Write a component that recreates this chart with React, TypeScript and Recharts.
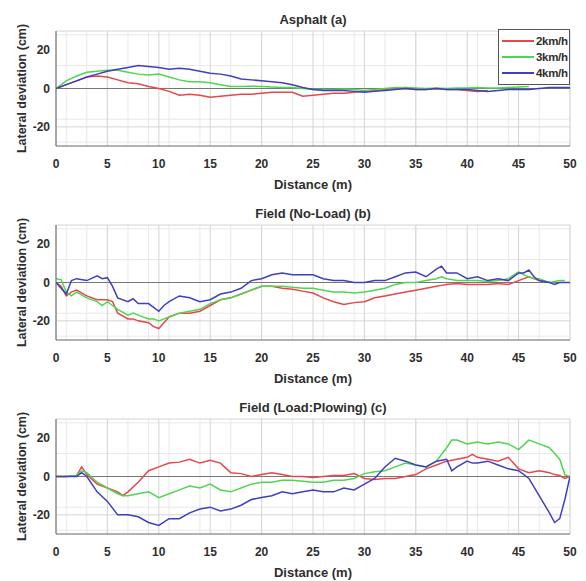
import React from 'react';
import { LineChart, Line, XAxis, YAxis, CartesianGrid, ReferenceLine, Legend } from 'recharts';

// distances (m) sampled for each panel
const asphaltDist = [
  0, 1, 2, 3, 4, 5, 6, 7, 8, 9, 10, 11, 12, 13, 14, 15, 16, 17, 18, 19, 20, 21, 22, 23, 24, 25,
  26, 27, 28, 29, 30, 31, 32, 33, 34, 35, 36, 37, 38, 39, 40, 41, 42, 43, 44, 45, 46, 47, 48, 49, 50,
];
const asphalt2 = [
  0, 2, 4, 6, 6.5, 6, 4.5, 3, 2.5, 1, 0, -1.5, -3.5, -3, -3.5, -4.5, -4, -3.5, -3, -3, -2.5, -2, -2, -2, -4, -3.5,
  -3, -2.5, -2.5, -2, -1.5, -1, -0.5, 0, 0, -0.5, -0.5, 0, -0.5, -0.5, -1, -1.5, -1,
];
const asphalt3 = [
  0, 4, 6.5, 8.5, 9, 9.5, 9.5, 8.5, 7.5, 7, 7.5, 6, 4.5, 3.5, 3.5, 3, 2, 1, 1, 1.2, 1, 0.8, 0.5, 0.5, 0, -0.5,
  -0.5, -0.5, -0.3, -0.5, -1, -0.5, 0, 0.5, 0.5, 0.3, 0, 0.2, 0, 0.3, 0.3, 0.5, 0.3, 0.2, 0.5, 0.8, 1,
];
const asphalt4 = [
  0, 2, 4, 6, 7.5, 9, 10, 11, 12, 11.5, 11, 10, 10.5, 10, 9, 8, 7.5, 6.5, 5, 4.5, 4, 3.5, 3, 2, 0.5, -0.5,
  -1, -1, -1, -1.5, -2, -1.5, -1, -0.5, 0, -0.5, -0.5, 0, -0.5, -0.5, -0.5, -1, -1.5, -1, -0.5, -0.5, -0.5, 0, 0.5, 0.5, 0.5,
];

const noLoadDist = [
  0, 0.5, 1, 1.5, 2, 3, 4, 4.5, 5, 5.5, 6, 7, 7.5, 8, 9, 9.5, 10, 10.5, 11, 12, 13, 14, 15, 16, 17, 18,
  19, 20, 21, 22, 23, 24, 25, 26, 27, 28, 29, 30, 31, 32, 33, 34, 35, 36, 37, 37.5, 38, 39, 40, 41, 42, 43,
  44, 45, 45.5, 46, 46.5, 47, 47.5, 48, 48.5, 49, 49.5, 50,
];
const noLoad2 = [
  0, -2, -7, -5, -4, -7, -9, -9, -9, -10, -16, -19, -19, -20, -21, -23, -24, -21, -18, -16, -16, -15, -12, -9, -8, -6,
  -4, -2, -2, -3, -3.5, -4.5, -5.5, -8, -10, -11.5, -10.5, -10, -8, -7, -6, -5, -4, -3, -2, -1.5, -1, -0.5, -1, -1, -1, -0.5,
  -1, 1, 2, 3, 2, 1, 0.5,
];
const noLoad3 = [
  2, 1.5, -5, -7, -5, -8, -10, -12, -10, -12, -14, -17, -16, -17, -19, -19, -20, -19, -18, -16, -15, -14, -11, -9, -8, -6,
  -4, -2, -2, -2, -2.5, -3, -3, -4, -5, -5, -5.5, -5, -4, -3, -1, 0, 0, 1, 2, 3, 2, 1, 1, 1, 0.5, 1,
  2, 5.5, 4, 3, 2, 2, 1, 0, 0.5, 1, 1,
];
const noLoad4 = [
  0, -3, -6, 1, 2, 1, 3.5, 2, 2.5, -2, -8, -10, -8.5, -11, -11, -13, -15, -12, -10, -7, -8, -10, -9, -6, -5, -3,
  1, 2, 4, 5, 4, 4, 4, 2, 1, 1, 0, 0, 1, 1, 3, 5, 5.5, 3, 7, 8.5, 5, 5, 2, 3, 1, 2,
  1, 5, 5, 6.5, 3, 1, 0.5, 0, -1, 0, 0, 0,
];

const plowDist = [
  0, 1, 2, 2.5, 3, 4, 5, 6, 6.5, 7, 8, 9, 10, 11, 12, 13, 14, 15, 16, 17, 18, 19, 20, 21, 22, 23, 24, 25,
  26, 27, 28, 29, 30, 31, 32, 33, 34, 35, 36, 37, 38, 38.5, 39, 40, 40.5, 41, 42, 43, 44, 45, 46, 47, 48,
  48.5, 49, 49.5, 50,
];
const plow2 = [
  0, 0, 0.5, 5, 1, -4, -6, -8, -10, -8, -3, 3, 5, 7, 7.5, 9, 7, 8.5, 7, 2, 1.5, 0, 1, 2, 1, 0, 0, -0.5,
  0, 0.5, 0.5, 1.5, -1, -1.5, -1, -1, 0, 1, 4, 6, 8, 8.5, 9, 10, 11.5, 10, 9, 8, 10, 4, 2, 3, 2,
  1, 0.5, -1, 0,
];
const plow3 = [
  0, 0, 0.5, 3, 2, -3, -6, -9, -10, -10, -9, -8, -11, -9, -7, -5, -6, -4, -7, -8, -6, -4, -3, -3, -2, -2, -2.5, -3,
  -3, -2, -2, -1, 1.5, 2.5, 3, 5, 7, 6, 5, 8, 15, 19, 19, 17, 17.5, 18, 17, 18, 17, 14, 19, 17, 15,
  12, 9, 1, 0,
];
const plow4 = [
  0, 0, 0, 2, 0, -8, -13, -20, -20, -20, -21, -24, -25.5, -22, -22, -19, -17, -16, -18, -17, -15, -12, -11, -10, -8, -9, -8, -7,
  -8, -8, -6, -7, -4, -1, 5, 9.5, 8, 6, 5, 8, 9, 3, 5, 8, 7, 7, 8, 6, 4, 3, -1, -10, -19,
  -24, -22, -12, 0,
];

const speeds = ['2km/h', '3km/h', '4km/h'];
const colors = ['#e5484a', '#4fd64f', '#3f3fbf'];

const xTicks = [0, 5, 10, 15, 20, 25, 30, 35, 40, 45, 50];
const yTicks = [-20, 0, 20];
const minorX = Array.from({ length: 51 }, (_, i) => i);
const minorY = Array.from({ length: 15 }, (_, i) => -28 + i * 4);

const font = '"Liberation Sans", Arial, sans-serif';
const textColor = '#2e2e2e';

const toPoints = (dist: number[], vals: number[]) => vals.map((y, i) => ({ x: dist[i], y }));

const panels = [
  { title: 'Asphalt (a)', dist: asphaltDist, series: [asphalt2, asphalt3, asphalt4], legend: true },
  { title: 'Field (No-Load) (b)', dist: noLoadDist, series: [noLoad2, noLoad3, noLoad4], legend: false },
  { title: 'Field (Load:Plowing) (c)', dist: plowDist, series: [plow2, plow3, plow4], legend: false },
];

// legend box in the upper right corner, like the matlab one
const LegendBox = () => (
  <div
    style={{
      width: 70,
      border: '1px solid #555',
      background: '#fff',
      padding: '3px 0',
      fontFamily: font,
      fontWeight: 'bold',
      fontSize: 11.5,
      color: textColor,
    }}
  >
    {speeds.map((s, i) => (
      <div key={s} style={{ display: 'flex', alignItems: 'center', height: 16 }}>
        <div style={{ width: 32, height: 2, background: colors[i], marginLeft: 3 }} />
        <span style={{ marginLeft: 2, letterSpacing: -0.3 }}>{s}</span>
      </div>
    ))}
  </div>
);

const Panel = ({ p, top }: { p: (typeof panels)[number]; top: number }) => (
  <div style={{ position: 'absolute', left: 0, top, width: 586, height: 194 }}>
    <div
      style={{
        position: 'absolute',
        left: 56,
        width: 514,
        top: 12,
        textAlign: 'center',
        fontFamily: font,
        fontWeight: 'bold',
        fontSize: 13,
        color: textColor,
        lineHeight: '16px',
      }}
    >
      {p.title}
    </div>
    <LineChart width={586} height={194} margin={{ top: 31, right: 16, left: 0, bottom: 0 }}>
      <CartesianGrid verticalValues={minorX} horizontalValues={minorY} stroke="#e9e9e9" strokeWidth={1} />
      <CartesianGrid verticalValues={xTicks} horizontalValues={[-20, 20, 30]} stroke="#d4d4d4" strokeWidth={1} />
      <XAxis
        type="number"
        dataKey="x"
        domain={[0, 50]}
        ticks={xTicks}
        allowDataOverflow
        height={48}
        tickSize={0}
        tickMargin={13}
        stroke="#666"
        tick={{ fill: textColor, fontSize: 12, fontWeight: 'bold', fontFamily: font }}
        label={{
          value: 'Distance (m)',
          position: 'insideBottom',
          offset: 5,
          fill: textColor,
          fontSize: 13,
          fontWeight: 'bold',
          fontFamily: font,
        }}
      />
      <YAxis
        type="number"
        domain={[-30, 30]}
        ticks={yTicks}
        allowDataOverflow
        width={56}
        tickSize={0}
        tickMargin={6}
        stroke="#666"
        tick={{ fill: textColor, fontSize: 12, fontWeight: 'bold', fontFamily: font }}
        label={{
          value: 'Lateral deviation (cm)',
          angle: -90,
          position: 'insideLeft',
          offset: 22,
          style: { textAnchor: 'middle' },
          fill: textColor,
          fontSize: 12.5,
          fontWeight: 'bold',
          fontFamily: font,
        }}
      />
      <ReferenceLine y={0} stroke="#777" strokeWidth={1.2} />
      {p.series.map((vals, i) => (
        <Line
          key={speeds[i]}
          name={speeds[i]}
          data={toPoints(p.dist, vals)}
          dataKey="y"
          type="linear"
          stroke={colors[i]}
          strokeWidth={1.5}
          dot={false}
          isAnimationActive={false}
        />
      ))}
      {p.legend && (
        <Legend
          layout="horizontal"
          verticalAlign="middle"
          align="center"
          content={<LegendBox />}
          wrapperStyle={{ position: 'absolute', top: 29, left: 498, width: 72 }}
        />
      )}
    </LineChart>
  </div>
);

export default function App() {
  return (
    <div style={{ position: 'absolute', left: 0, top: 0, width: 586, height: 581, background: '#fff' }}>
      {panels.map((p, i) => (
        <Panel key={p.title} p={p} top={i * 194} />
      ))}
    </div>
  );
}
